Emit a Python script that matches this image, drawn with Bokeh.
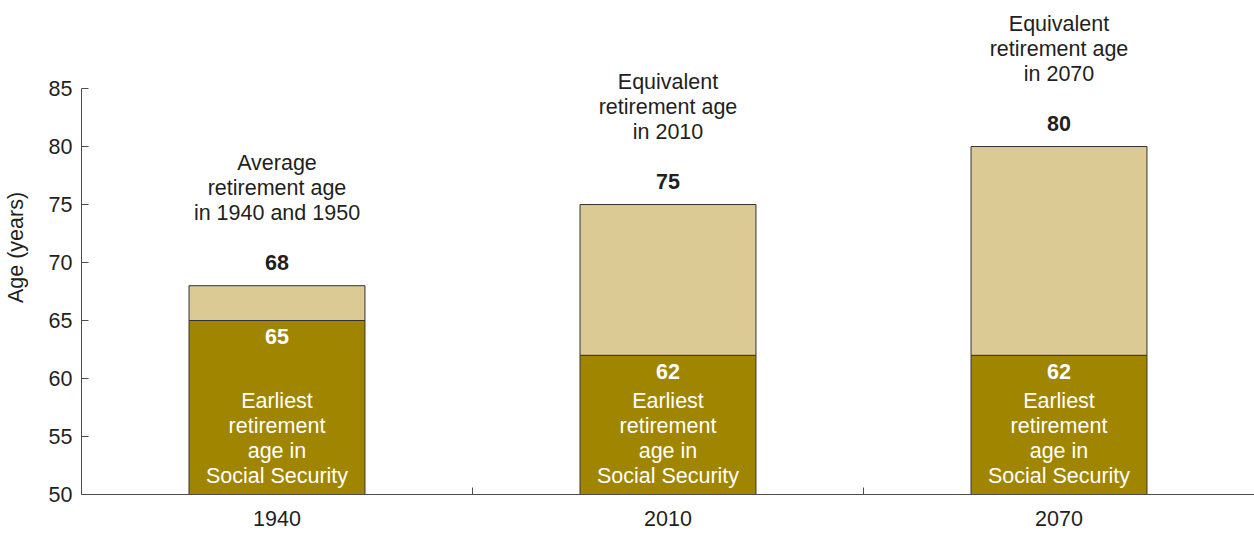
from bokeh.plotting import figure
from bokeh.models import Range1d, FixedTicker, LabelSet, ColumnDataSource
from bokeh.core.properties import value
from bokeh.embed import file_html
from bokeh.resources import INLINE

# ---- data ----
years = ["1940", "2010", "2070"]
earliest_age = [65, 62, 62]
equivalent_age = [68, 75, 80]
top_notes = [
    "Average\nretirement age\nin 1940 and 1950",
    "Equivalent\nretirement age\nin 2010",
    "Equivalent\nretirement age\nin 2070",
]
inner_note = "Earliest\nretirement\nage in\nSocial Security"
y_ticks = [50, 55, 60, 65, 70, 75, 80, 85]
y_min, y_max = 50, 85

# ---- styles ----
DARK = "#a08500"
LIGHT = "#dcca94"
EDGE = "#333333"
AXIS = "#4d4d4d"
TEXT = "#231f20"
FONT = "Liberation Sans"
FS = "21.5px"
LINE = 25          # px between text lines
NOTE_OFF = 73      # px from bar top to last note line
VALUE_OFF = 23     # px from bar top to value label
INNER_OFF = 19     # px from bar bottom to last inner line

x = [i + 0.5 for i in range(len(years))]
src = ColumnDataSource(dict(
    x=x,
    base=[y_min] * len(years),
    early=earliest_age,
    equiv=equivalent_age,
    early_lbl=[str(v) for v in earliest_age],
    equiv_lbl=[str(v) for v in equivalent_age],
))

# one row per text line, so each line is centred on its own
nx, ny, nt, no = [], [], [], []
for xi, top, note in zip(x, equivalent_age, top_notes):
    lines = note.split("\n")
    for k, line in enumerate(lines):
        nx.append(xi); ny.append(top); nt.append(line)
        no.append(NOTE_OFF + (len(lines) - 1 - k) * LINE)
note_src = ColumnDataSource(dict(x=nx, y=ny, text=nt, off=no))

ix, iy, it, io = [], [], [], []
for xi in x:
    lines = inner_note.split("\n")
    for k, line in enumerate(lines):
        ix.append(xi); iy.append(y_min); it.append(line)
        io.append(INNER_OFF + (len(lines) - 1 - k) * LINE)
inner_src = ColumnDataSource(dict(x=ix, y=iy, text=it, off=io))

p = figure(width=1254, height=535,
           x_range=Range1d(0, len(years)), y_range=Range1d(y_min, 92.59),
           output_backend="svg", toolbar_location=None,
           min_border_left=81, min_border_right=0,
           min_border_top=0, min_border_bottom=41)
p.outline_line_color = None
p.xgrid.visible = False
p.ygrid.visible = False

p.vbar(x="x", width=0.45, bottom="base", top="early", source=src,
       fill_color=DARK, line_color=EDGE, line_width=1)
p.vbar(x="x", width=0.45, bottom="early", top="equiv", source=src,
       fill_color=LIGHT, line_color=EDGE, line_width=1)

common = dict(text_font=value(FONT), text_font_size=value(FS),
              text_align=value("center"), text_baseline=value("middle"))

p.add_layout(LabelSet(x="x", y="equiv", text="equiv_lbl", source=src,
                      y_offset=VALUE_OFF, text_color=TEXT,
                      text_font_style=value("bold"), **common))
p.add_layout(LabelSet(x="x", y="y", text="text", source=note_src,
                      y_offset="off", text_color=TEXT, **common))
p.add_layout(LabelSet(x="x", y="early", text="early_lbl", source=src,
                      y_offset=-16, text_color="white",
                      text_font_style=value("bold"), **common))
p.add_layout(LabelSet(x="x", y="y", text="text", source=inner_src,
                      y_offset="off", text_color="white", **common))

# y axis
ya = p.yaxis[0]
ya.ticker = FixedTicker(ticks=y_ticks)
ya.bounds = (y_min, y_max)
ya.axis_label = "Age (years)"
ya.axis_label_text_font = FONT
ya.axis_label_text_font_size = FS
ya.axis_label_text_font_style = "normal"
ya.axis_label_text_color = TEXT
ya.axis_label_standoff = 18
ya.major_label_text_font = FONT
ya.major_label_text_font_size = FS
ya.major_label_text_color = TEXT
ya.major_label_standoff = 9
ya.major_tick_in = 7
ya.major_tick_out = 0
ya.minor_tick_line_color = None
ya.axis_line_color = AXIS
ya.major_tick_line_color = AXIS

# x axis
xa = p.xaxis[0]
xa.ticker = FixedTicker(ticks=x, minor_ticks=[i for i in range(1, len(years))])
xa.major_label_overrides = {xi: yr for xi, yr in zip(x, years)}
xa.major_label_text_font = FONT
xa.major_label_text_font_size = FS
xa.major_label_text_color = TEXT
xa.major_label_standoff = 16
xa.major_tick_line_color = None
xa.major_tick_in = 0
xa.major_tick_out = 0
xa.minor_tick_in = 7
xa.minor_tick_out = 0
xa.minor_tick_line_color = AXIS
xa.axis_line_color = AXIS

open("out.html", "w").write(file_html(p, INLINE))
